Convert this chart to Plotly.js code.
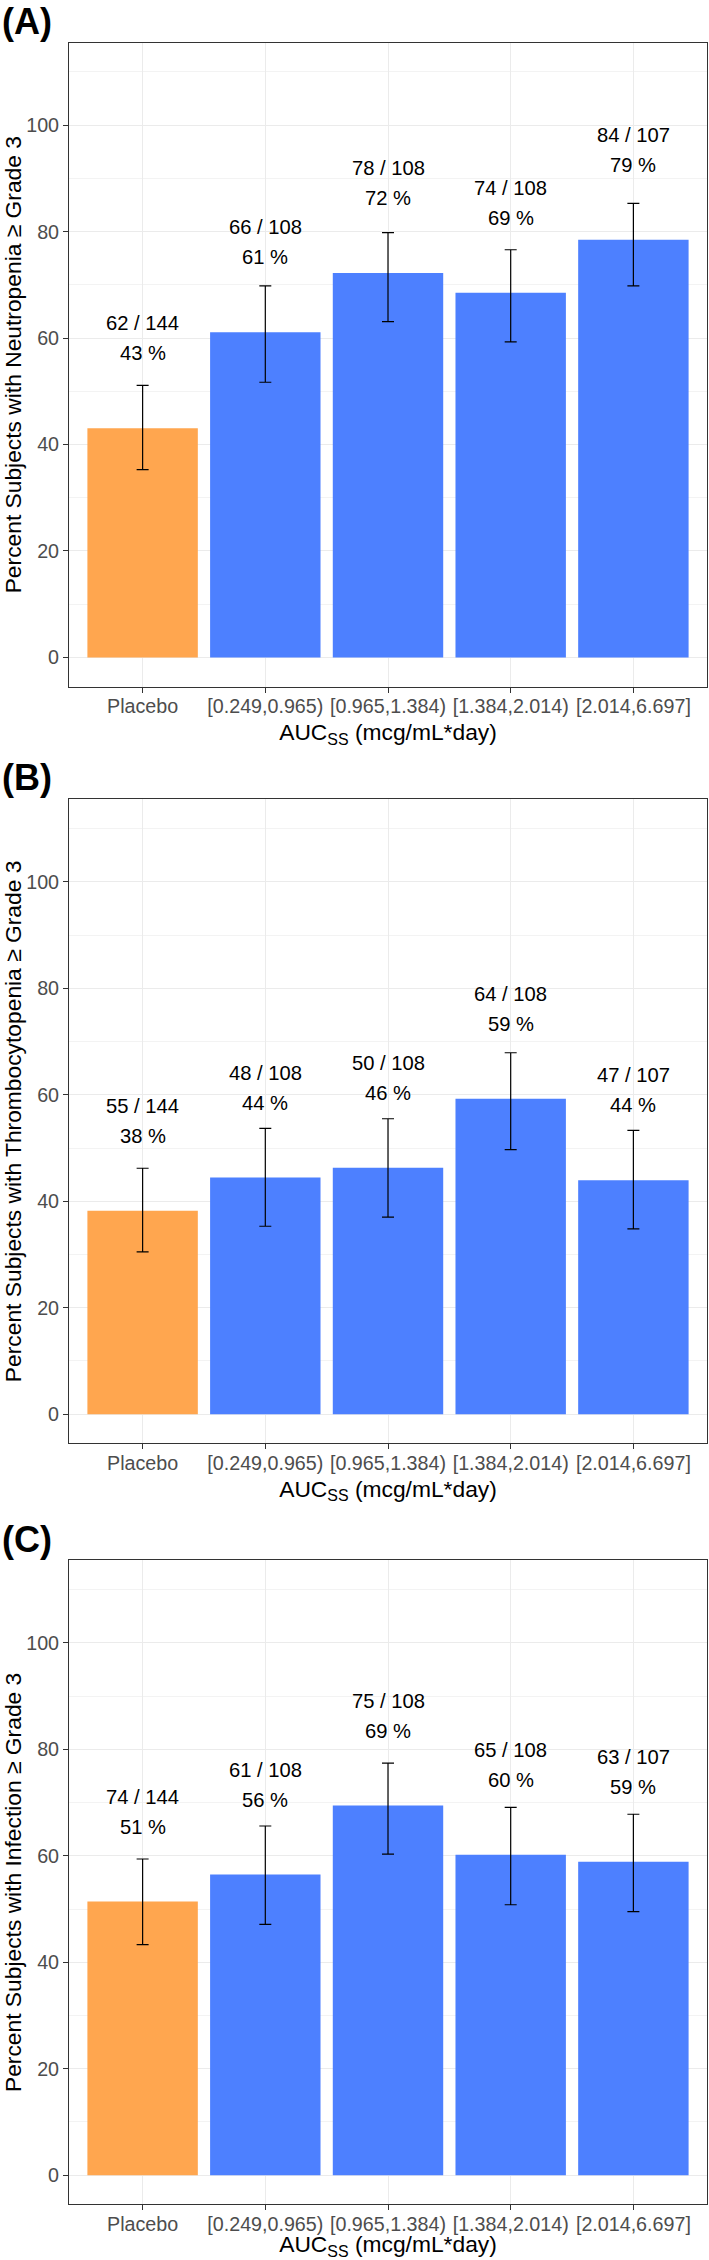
<!DOCTYPE html>
<html>
<head>
<meta charset="utf-8">
<script src="https://cdn.plot.ly/plotly-3.0.1.min.js"></script>
<style>html,body{margin:0;padding:0;background:#fff;}#chart{width:709px;height:2260px;}</style>
</head>
<body>
<div id="chart"></div>
<script>
// ---------- data ----------
const categories = ["Placebo", "[0.249,0.965)", "[0.965,1.384)", "[1.384,2.014)", "[2.014,6.697]"];

// Panel A: Neutropenia >= Grade 3
const nA = [62, 66, 78, 74, 84];
const totA = [144, 108, 108, 108, 107];
const pctA = [43.06, 61.11, 72.22, 68.52, 78.50];
const lowA = [35.3, 51.7, 63.1, 59.3, 69.8];
const upA = [51.1, 69.8, 79.8, 76.6, 85.3];

// Panel B: Thrombocytopenia >= Grade 3
const nB = [55, 48, 50, 64, 47];
const totB = [144, 108, 108, 108, 107];
const pctB = [38.19, 44.44, 46.30, 59.26, 43.93];
const lowB = [30.5, 35.3, 37.0, 49.7, 34.8];
const upB = [46.2, 53.7, 55.5, 67.9, 53.3];

// Panel C: Infection >= Grade 3
const nC = [74, 61, 75, 65, 63];
const totC = [144, 108, 108, 108, 107];
const pctC = [51.39, 56.48, 69.44, 60.19, 58.88];
const lowC = [43.3, 47.1, 60.3, 50.8, 49.5];
const upC = [59.4, 65.6, 77.4, 69.1, 67.8];

const yTitles = [
  "Percent Subjects with Neutropenia \u2265 Grade 3",
  "Percent Subjects with Thrombocytopenia \u2265 Grade 3",
  "Percent Subjects with Infection \u2265 Grade 3"
];
const panelLabels = ["(A)", "(B)", "(C)"];
const xTitle = "AUC<sub>SS</sub> (mcg/mL*day)";
const yTickVals = [0, 20, 40, 60, 80, 100];

// ---------- styling / layout ----------
const ORANGE = "#FFA64F";
const BLUE = "#4D80FF";
const FONT = "Liberation Sans, Arial, Helvetica, sans-serif";
const W = 709, H = 2260, MB = 40;
const PH = H - MB;       // plot-area height (t = 0)
const PW = W - 69 - 2;   // plot-area width

const panels = [
  {n: nA, tot: totA, pct: pctA, lo: lowA, up: upA},
  {n: nB, tot: totB, pct: pctB, lo: lowB, up: upB},
  {n: nC, tot: totC, pct: pctC, lo: lowC, up: upC}
];
// pixel frame tops/bottoms of each panel
const frames = [[42.7, 686.7], [799.4, 1443.4], [1560.4, 2204.4]];
const labelCenters = [21, 777, 1539];

const traces = [];
const annotations = [];
const layout = {
  width: W, height: H,
  margin: {l: 69, r: 2, t: 0, b: MB, pad: 0},
  paper_bgcolor: "#ffffff", plot_bgcolor: "#ffffff",
  showlegend: false,
  bargap: 0.1,
  font: {family: FONT, color: "#000000"}
};

panels.forEach((p, i) => {
  const sfx = i === 0 ? "" : String(i + 1);
  const xa = "x" + sfx, ya = "y" + sfx;
  const colors = categories.map((c, j) => j === 0 ? ORANGE : BLUE);
  traces.push({
    type: "bar", x: categories, y: p.pct, xaxis: xa, yaxis: ya,
    marker: {color: colors, line: {width: 0}},
    error_y: {
      type: "data", symmetric: false,
      array: p.up.map((u, j) => u - p.pct[j]),
      arrayminus: p.lo.map((l, j) => p.pct[j] - l),
      color: "#000000", thickness: 1.2, width: 6
    },
    hoverinfo: "skip"
  });
  const [top, bot] = frames[i];
  const dom = [(PH - bot) / PH, (PH - top) / PH];
  layout["xaxis" + sfx] = {
    domain: [0, 1], anchor: ya, type: "category",
    categoryorder: "array", categoryarray: categories,
    range: [-0.6, 4.6],
    showline: true, mirror: true, linecolor: "#333333", linewidth: 1,
    showgrid: true, gridcolor: "#EBEBEB", gridwidth: 1,
    ticks: "outside", ticklen: 5, tickcolor: "#333333", tickwidth: 1,
    ticklabelstandoff: -3,
    tickfont: {family: FONT, size: 19.7, color: "#4D4D4D"},
    zeroline: false,
    title: {text: xTitle, font: {family: FONT, size: 22.8, color: "#000000"}, standoff: 7}
  };
  layout["yaxis" + sfx] = {
    domain: dom, anchor: xa,
    range: [-5.5, 115.5],
    tickvals: yTickVals,
    showline: true, mirror: true, linecolor: "#333333", linewidth: 1,
    showgrid: true, gridcolor: "#EBEBEB", gridwidth: 1,
    minor: {dtick: 10, tick0: 0, showgrid: true, gridcolor: "#F3F3F3", gridwidth: 1, ticks: ""},
    ticks: "outside", ticklen: 5, tickcolor: "#333333", tickwidth: 1,
    tickfont: {family: FONT, size: 19.7, color: "#4D4D4D"},
    zeroline: false,
    title: {text: yTitles[i], font: {family: FONT, size: 22.8, color: "#000000"}, standoff: 6}
  };
  // count and percent labels
  categories.forEach((c, j) => {
    annotations.push({
      xref: xa, yref: ya, x: c, y: p.pct[j], yshift: 105,
      text: p.n[j] + " / " + p.tot[j], showarrow: false,
      xanchor: "center", yanchor: "middle",
      font: {family: FONT, size: 20.2, color: "#000000"}
    });
    annotations.push({
      xref: xa, yref: ya, x: c, y: p.pct[j], yshift: 75,
      text: Math.round(p.pct[j]) + " %", showarrow: false,
      xanchor: "center", yanchor: "middle",
      font: {family: FONT, size: 20.2, color: "#000000"}
    });
  });
  annotations.push({
    xref: "paper", yref: "paper", x: -69 / PW, y: (PH - labelCenters[i]) / PH,
    xanchor: "left", yanchor: "middle", showarrow: false,
    text: "<b>" + panelLabels[i] + "</b>",
    font: {family: FONT, size: 36, color: "#000000"}
  });
});
layout.annotations = annotations;

Plotly.newPlot("chart", traces, layout, {staticPlot: true, displayModeBar: false});
</script>
</body>
</html>
